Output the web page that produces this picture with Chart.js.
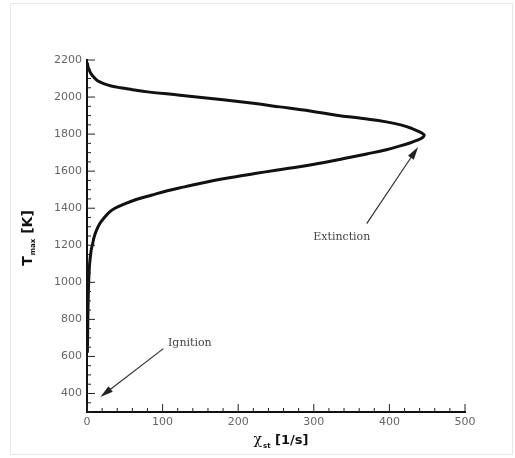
<!DOCTYPE html>
<html>
<head>
<meta charset="utf-8">
<script src="https://cdn.jsdelivr.net/npm/chart.js@4.4.0/dist/chart.umd.min.js"></script>
<style>
  body { margin: 0; background: #fff; }
  #wrap { position: relative; width: 515px; height: 458px; }
</style>
</head>
<body>
<div id="wrap"><canvas id="grafico" width="515" height="458"></canvas></div>
<script>
// S-curve: strain rate chi_st [1/s] vs max temperature [K]
const chiSt = [0.5, 1.5, 3, 5.5, 8.7, 14, 22, 32, 44, 60, 80, 123, 180, 220, 255, 295, 330, 365, 396, 415, 430, 440, 445, 446,
  444, 437, 427, 413, 396, 370, 340, 312, 283, 250, 222, 195, 160, 129, 105, 85, 65, 49, 37, 30, 23, 17, 12.5, 9.5, 7, 5.5, 3.5, 2.2, 1.3, 0.8, 0.5];
const tMax = [2185, 2160, 2145, 2125, 2109, 2088, 2073, 2060, 2050, 2040, 2028, 2010, 1985, 1966, 1947, 1925, 1902, 1884, 1866, 1850, 1830, 1812, 1800, 1794,
  1782, 1767, 1752, 1735, 1716, 1693, 1668, 1645, 1625, 1605, 1587, 1569, 1543, 1515, 1493, 1470, 1447, 1422, 1400, 1380, 1350, 1317, 1280, 1245, 1200, 1173, 1101, 1000, 850, 700, 620];

const xTicks = [0, 100, 200, 300, 400, 500];
const yTicks = [400, 600, 800, 1000, 1200, 1400, 1600, 1800, 2000, 2200];

// annotations: [label, textX, textY, tailX, tailY, tipX, tipY]
const notas = [
  ["Extinction", 337, 1245, 370, 1317, 438, 1731],
  ["Ignition", 136, 671, 101, 642, 17.6, 381]
];

const pontos = chiSt.map((x, i) => ({ x: x, y: tMax[i] }));

function seta(ctx, x1, y1, x2, y2) {
  const ang = Math.atan2(y2 - y1, x2 - x1);
  const len = 13, larg = 3.5;
  ctx.beginPath();
  ctx.moveTo(x1, y1);
  ctx.lineTo(x2 - Math.cos(ang) * len * 0.8, y2 - Math.sin(ang) * len * 0.8);
  ctx.stroke();
  ctx.beginPath();
  ctx.moveTo(x2, y2);
  ctx.lineTo(x2 - Math.cos(ang) * len - Math.sin(ang) * larg, y2 - Math.sin(ang) * len + Math.cos(ang) * larg);
  ctx.lineTo(x2 - Math.cos(ang) * len + Math.sin(ang) * larg, y2 - Math.sin(ang) * len - Math.cos(ang) * larg);
  ctx.closePath();
  ctx.fill();
}

const extras = {
  id: "extras",
  beforeDraw(chart) {
    const ctx = chart.ctx;
    ctx.save();
    ctx.fillStyle = "#fff";
    ctx.fillRect(0, 0, chart.width, chart.height);
    ctx.strokeStyle = "#e8e8e8";
    ctx.lineWidth = 1;
    ctx.strokeRect(10.5, 3.5, 502, 451);
    ctx.restore();
  },
  afterDraw(chart) {
    const ctx = chart.ctx;
    const xs = chart.scales.x, ys = chart.scales.y;
    const area = chart.chartArea;
    ctx.save();
    ctx.strokeStyle = "#222";
    ctx.lineWidth = 1;
    // inward tick marks
    for (let v = 0; v <= 500; v += 20) {
      const px = xs.getPixelForValue(v);
      const l = v % 100 === 0 ? 8 : 4;
      ctx.beginPath(); ctx.moveTo(px, area.bottom); ctx.lineTo(px, area.bottom - l); ctx.stroke();
    }
    for (let v = 300; v <= 2200; v += 50) {
      const py = ys.getPixelForValue(v);
      const l = (v % 200 === 0) ? 8 : 4;
      ctx.beginPath(); ctx.moveTo(area.left, py); ctx.lineTo(area.left + l, py); ctx.stroke();
    }

    // annotations
    ctx.strokeStyle = "#333";
    ctx.lineWidth = 1.2;
    for (const n of notas) {
      ctx.fillStyle = "#222";
      seta(ctx, xs.getPixelForValue(n[3]), ys.getPixelForValue(n[4]), xs.getPixelForValue(n[5]), ys.getPixelForValue(n[6]));
      ctx.font = "11px 'DejaVu Serif'";
      ctx.fillStyle = "#444";
      ctx.textAlign = "center";
      ctx.textBaseline = "middle";
      ctx.fillText(n[0], xs.getPixelForValue(n[1]), ys.getPixelForValue(n[2]));
    }

    // axis titles with subscripts
    ctx.fillStyle = "#111";
    ctx.textBaseline = "alphabetic";
    ctx.textAlign = "left";
    const fGrande = "bold 14px 'DejaVu Sans'", fSub = "bold 7px 'DejaVu Sans'";
    // y title
    ctx.save();
    ctx.translate(32, 238);
    ctx.rotate(-Math.PI / 2);
    ctx.font = fGrande; const wT = ctx.measureText("T").width;
    ctx.font = fSub; const wM = ctx.measureText("max").width;
    ctx.font = fGrande; const wK = ctx.measureText(" [K]").width;
    let x0 = -(wT + wM + 1 + wK) / 2;
    ctx.font = fGrande; ctx.fillText("T", x0, 0);
    ctx.font = fSub; ctx.fillText("max", x0 + wT + 1, 3);
    ctx.font = fGrande; ctx.fillText(" [K]", x0 + wT + wM + 1, 0);
    ctx.restore();
    // x title
    ctx.font = "14px 'DejaVu Serif'"; const wC = ctx.measureText("\u03C7").width;
    ctx.font = fSub; const wS = ctx.measureText("st").width;
    ctx.font = "bold 13px 'DejaVu Sans'"; const wU = ctx.measureText(" [1/s]").width;
    x0 = 281 - (wC + wS + 1 + wU) / 2;
    ctx.font = "14px 'DejaVu Serif'"; ctx.fillText("\u03C7", x0, 444);
    ctx.font = fSub; ctx.fillText("st", x0 + wC + 1, 448);
    ctx.font = "bold 13px 'DejaVu Sans'"; ctx.fillText(" [1/s]", x0 + wC + wS + 1, 444);
    ctx.restore();
  }
};

const ctx = document.getElementById("grafico").getContext("2d");
const meuGrafico = new Chart(ctx, {
  type: "scatter",
  data: {
    datasets: [{
      data: pontos,
      showLine: true,
      borderColor: "#111",
      borderWidth: 3,
      pointRadius: 0,
      tension: 0.4,
      fill: false
    }]
  },
  options: {
    responsive: false,
    animation: false,
    layout: { padding: { top: 60, right: 50, left: 0, bottom: 0 } },
    plugins: { legend: { display: false }, tooltip: { enabled: false } },
    scales: {
      x: {
        type: "linear",
        min: 0, max: 500,
        afterBuildTicks: (s) => { s.ticks = xTicks.map(v => ({ value: v })); },
        afterFit: (s) => { s.height = 46; },
        grid: { display: false, drawTicks: false },
        border: { display: true, color: "#111", width: 2 },
        ticks: { color: "#666", font: { family: "DejaVu Sans", size: 11 }, padding: 4, maxRotation: 0,
          callback: (v) => String(v) }
      },
      y: {
        type: "linear",
        min: 300, max: 2200,
        afterBuildTicks: (s) => { s.ticks = yTicks.map(v => ({ value: v })); },
        afterFit: (s) => { s.width = 87; },
        grid: { display: false, drawTicks: false },
        border: { display: true, color: "#111", width: 2 },
        ticks: { color: "#666", font: { family: "DejaVu Sans", size: 11 }, padding: 5,
          callback: (v) => String(v) }
      }
    }
  },
  plugins: [extras]
});
</script>
</body>
</html>
